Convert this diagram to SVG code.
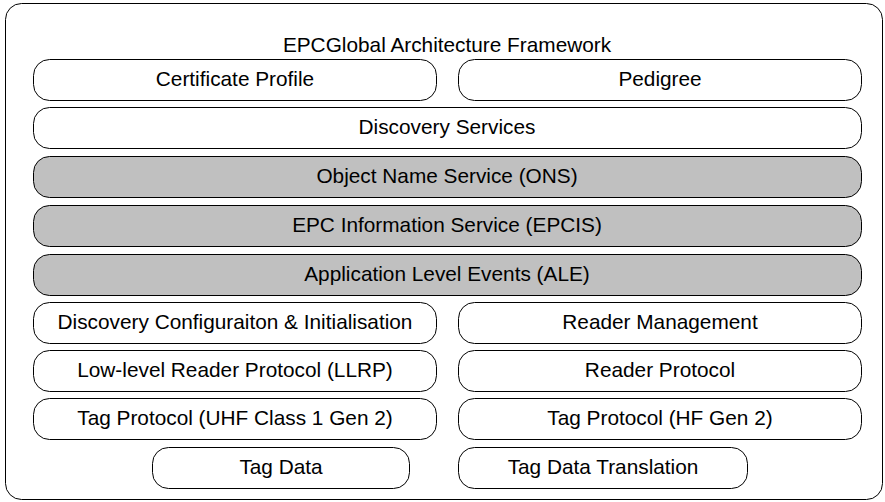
<svg xmlns="http://www.w3.org/2000/svg" width="885" height="502" viewBox="0 0 885 502">
<style>
.b{fill:#ffffff;stroke:#000000;stroke-width:1}
.g{fill:#c0c0c0;stroke:#000000;stroke-width:1}
.o{fill:#ffffff;stroke:#000000;stroke-width:1}
text{font-family:"Liberation Sans",Arial,sans-serif;font-size:20.8px;fill:#000000;text-anchor:middle}
</style>
<rect width="885" height="502" fill="#ffffff"/>
<g id="frame">
<rect class="o" x="5.5" y="3.5" width="877" height="496" rx="16" ry="16"/>
<text x="447" y="52">EPCGlobal Architecture Framework</text>
</g>
<g id="certificate-profile"><rect class="b" x="33.5" y="59.5" width="403" height="41" rx="16" ry="16"/><text x="235" y="86">Certificate Profile</text></g>
<g id="pedigree"><rect class="b" x="458.5" y="59.5" width="403" height="41" rx="16" ry="16"/><text x="660" y="86">Pedigree</text></g>
<g id="discovery-services"><rect class="b" x="33.5" y="107.5" width="828" height="41" rx="16" ry="16"/><text x="447" y="134">Discovery Services</text></g>
<g id="ons"><rect class="g" x="33.5" y="156.5" width="828" height="41" rx="16" ry="16"/><text x="447" y="183">Object Name Service (ONS)</text></g>
<g id="epcis"><rect class="g" x="33.5" y="205.5" width="828" height="41" rx="16" ry="16"/><text x="447" y="232">EPC Information Service (EPCIS)</text></g>
<g id="ale"><rect class="g" x="33.5" y="254.5" width="828" height="41" rx="16" ry="16"/><text x="447" y="281">Application Level Events (ALE)</text></g>
<g id="discovery-config"><rect class="b" x="33.5" y="302.5" width="403" height="41" rx="16" ry="16"/><text x="235" y="329">Discovery Configuraiton &amp; Initialisation</text></g>
<g id="reader-management"><rect class="b" x="458.5" y="302.5" width="403" height="41" rx="16" ry="16"/><text x="660" y="329">Reader Management</text></g>
<g id="llrp"><rect class="b" x="33.5" y="350.5" width="403" height="41" rx="16" ry="16"/><text x="235" y="377">Low-level Reader Protocol (LLRP)</text></g>
<g id="reader-protocol"><rect class="b" x="458.5" y="350.5" width="403" height="41" rx="16" ry="16"/><text x="660" y="377">Reader Protocol</text></g>
<g id="tag-protocol-uhf"><rect class="b" x="33.5" y="398.5" width="403" height="41" rx="16" ry="16"/><text x="235" y="425">Tag Protocol (UHF Class 1 Gen 2)</text></g>
<g id="tag-protocol-hf"><rect class="b" x="458.5" y="398.5" width="403" height="41" rx="16" ry="16"/><text x="660" y="425">Tag Protocol (HF Gen 2)</text></g>
<g id="tag-data"><rect class="b" x="152.5" y="447.5" width="257" height="41" rx="16" ry="16"/><text x="281" y="474">Tag Data</text></g>
<g id="tag-data-translation"><rect class="b" x="458.5" y="447.5" width="289" height="41" rx="16" ry="16"/><text x="603" y="474">Tag Data Translation</text></g>
<g id="connectors"></g>
</svg>
